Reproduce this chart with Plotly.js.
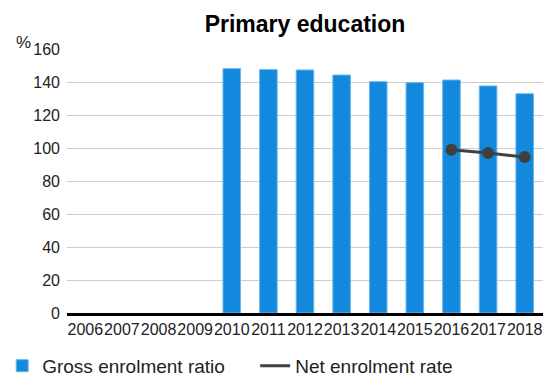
<!DOCTYPE html>
<html>
<head>
<meta charset="utf-8">
<script src="https://cdn.plot.ly/plotly-3.0.1.min.js"></script>
<style>html,body{margin:0;padding:0;background:#fff;}#chart{width:546px;height:376px;}</style>
</head>
<body>
<div id="chart"></div>
<script>
var years = ['2006','2007','2008','2009','2010','2011','2012','2013','2014','2015','2016','2017','2018'];
var grossEnrolment = [null, null, null, null, 148.1, 147.5, 147.3, 144.2, 140.2, 139.6, 141.2, 137.6, 132.9];
var netEnrolment = [null, null, null, null, null, null, null, null, null, null, 99.0, 97.0, 94.5];
var yTicks = [0, 20, 40, 60, 80, 100, 120, 140, 160];

var FONT = 'Liberation Sans, Arial, sans-serif';

var traces = [
  {
    type: 'bar', name: 'Gross enrolment ratio', x: years, y: grossEnrolment,
    marker: {color: '#1289DC', line: {color: '#6ab5ec', width: 1}},
    legendwidth: 208,
    hoverinfo: 'x+y'
  },
  {
    type: 'scatter', mode: 'lines', name: 'Net enrolment rate', x: years, y: netEnrolment,
    line: {color: '#404040', width: 3}, connectgaps: false
  },
  {
    type: 'scatter', mode: 'markers', name: 'Net enrolment rate', x: years, y: netEnrolment,
    marker: {color: '#404040', size: 12}, showlegend: false
  }
];

var layout = {
  width: 546, height: 376,
  margin: {l: 67, r: 3, t: 49, b: 63},
  paper_bgcolor: '#fff', plot_bgcolor: '#fff',
  font: {family: FONT, size: 16, color: '#222'},
  title: {text: '<b>Primary education</b>', font: {family: FONT, size: 23, color: '#000'},
          x: 0.5, xref: 'paper', xanchor: 'center', y: 0.937, yref: 'container', yanchor: 'middle'},
  bargap: 0.52,
  showlegend: true,
  legend: {orientation: 'h', xref: 'container', yref: 'container', x: 0.004, y: 0.027,
           xanchor: 'left', yanchor: 'middle', font: {family: FONT, size: 19, color: '#222'},
           traceorder: 'normal', bgcolor: 'rgba(0,0,0,0)'},
  xaxis: {type: 'category', categoryorder: 'array', categoryarray: years, range: [-0.5, 12.5],
          showgrid: false, showline: true, linecolor: '#000', linewidth: 3, ticks: '', tickangle: 0,
          tickfont: {family: FONT, size: 16, color: '#222'}, fixedrange: true},
  yaxis: {range: [0, 160], tickvals: yTicks, showgrid: true, gridcolor: '#cccccc', gridwidth: 1,
          zeroline: false, showline: false, ticks: '', ticklabelstandoff: 6,
          tickfont: {family: FONT, size: 16, color: '#222'}, fixedrange: true},
  annotations: [
    {text: '%', xref: 'paper', yref: 'paper', x: -0.0924, y: 1.024, xanchor: 'center', yanchor: 'middle',
     showarrow: false, font: {family: FONT, size: 17, color: '#222'}}
  ]
};

Plotly.newPlot('chart', traces, layout, {displayModeBar: false, staticPlot: true});
</script>
</body>
</html>
